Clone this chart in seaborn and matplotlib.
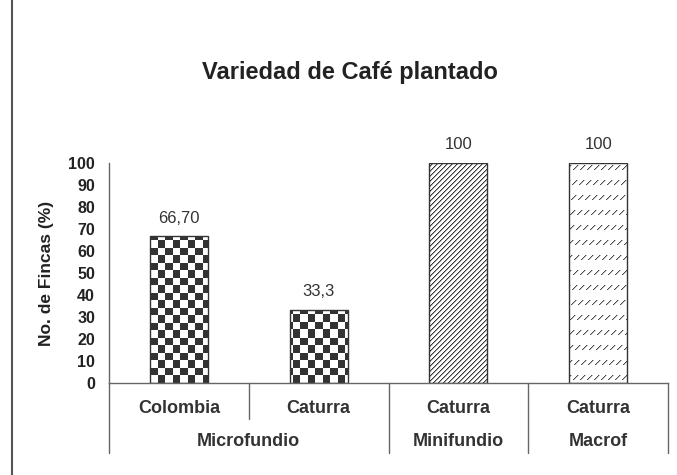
import matplotlib
matplotlib.use("Agg")
import matplotlib.pyplot as plt
import matplotlib.transforms as mtransforms
from matplotlib.patches import Rectangle
import numpy as np
import pandas as pd
import seaborn as sns

# Chart data
varieties = ["Colombia", "Caturra", "Caturra", "Caturra"]
groups = ["Microfundio", "Microfundio", "Minifundio", "Macrof"]
percent = [66.7, 33.3, 100, 100]
value_labels = ["66,70", "33,3", "100", "100"]
y_ticks = [0, 10, 20, 30, 40, 50, 60, 70, 80, 90, 100]

W, H = 677, 475
DARK = "#333333"

sns.set_style("white")
plt.rcParams["font.family"] = ["Liberation Sans", "DejaVu Sans"]

df = pd.DataFrame(
    {
        "bar": [f"{g}-{i}" for i, g in enumerate(groups)],
        "variety": varieties,
        "group": groups,
        "percent": percent,
    }
)

fig = plt.figure(figsize=(W / 100, H / 100), dpi=100)
ax = fig.add_axes([109 / W, 1 - 383 / H, 559 / W, 220 / H])

sns.barplot(
    data=df,
    x="bar",
    y="percent",
    hue="group",
    palette=["white", "white", "white"],
    dodge=False,
    width=0.415,
    edgecolor=DARK,
    linewidth=1.0,
    legend=False,
    ax=ax,
)


# Pixel textures used to fill the bars
def texture(kind):
    r, c = np.mgrid[0:H, 0:W]
    img = np.ones((H, W, 3))
    if kind == "checker":
        mask = ((np.floor(c / 7.5) + np.floor(r / 7.5)) % 2) == 1
        img[mask] = 0.2
    elif kind == "diag":
        d = (c + r) % 5
        img[d == 0] = 0.22
        img[d == 1] = 0.65
    else:
        band = (r % 15) < 5
        d = (c + r) % 7
        img[band & (d == 0)] = 0.3
        img[band & (d == 1)] = 0.75
    return img


pattern = {"Microfundio": "checker", "Minifundio": "diag", "Macrof": "dash"}
bars = sorted(ax.patches, key=lambda p: p.get_x())
for bar, g in zip(bars, groups):
    bar.set_facecolor("none")
    bar.set_zorder(2)
    im = ax.imshow(
        texture(pattern[g]),
        extent=(0, W, 0, H),
        transform=mtransforms.IdentityTransform(),
        interpolation="nearest",
        aspect="auto",
        zorder=1,
    )
    im.set_clip_path(bar)

# Value labels
for bar, lab in zip(bars, value_labels):
    ax.annotate(
        lab,
        (bar.get_x() + bar.get_width() / 2, bar.get_height()),
        xytext=(0, 13),
        textcoords="offset points",
        ha="center",
        va="center",
        fontsize=12,
        color=DARK,
        annotation_clip=False,
    )

ax.set_xlim(-0.5, len(percent) - 0.5)
ax.set_ylim(0, 100)
ax.set_yticks(y_ticks)
ax.set_yticklabels([str(t) for t in y_ticks], fontsize=11.5, fontweight="bold", color="#222222")
ax.tick_params(axis="y", length=0, pad=10)
ax.set_xticks(range(len(percent)))
ax.set_xticklabels([])
ax.tick_params(axis="x", length=3, width=0.8, color="#666666", direction="out")
ax.set_xlabel("")

for side in ["top", "right"]:
    ax.spines[side].set_visible(False)
for side in ["left", "bottom"]:
    ax.spines[side].set_color("#666666")
    ax.spines[side].set_linewidth(1.0)

ax.set_ylabel("No. de Fincas (%)", fontsize=12.5, fontweight="bold", color="#222222")
ax.yaxis.set_label_coords(-0.098, 0.5)

# Category table below the axis
trans = mtransforms.blended_transform_factory(ax.transData, ax.transAxes)
for i, v in enumerate(varieties):
    ax.text(i, -0.114, v, transform=trans, ha="center", va="center",
            fontsize=13, fontweight="bold", color=DARK)

group_names = list(dict.fromkeys(groups))
for g in group_names:
    idx = [i for i, x in enumerate(groups) if x == g]
    ax.text(np.mean(idx), -0.268, g, transform=trans, ha="center", va="center",
            fontsize=13, fontweight="bold", color=DARK)

for k in range(len(groups) + 1):
    xb = k - 0.5
    if 0 < k < len(groups) and groups[k] == groups[k - 1]:
        bottom = -0.164
    else:
        bottom = -0.318
    ax.plot([xb, xb], [0, bottom], transform=trans, color="#666666",
            lw=1.0, clip_on=False)

fig.text(350 / W, 1 - 72 / H, "Variedad de Café plantado", ha="center", va="center",
         fontsize=17, fontweight="bold", color="#222222")

# Outer frame (partly cut off at the right and bottom)
fig.add_artist(Rectangle((12 / W, -0.2), 1.2, 1.2 + (1 - 10 / H), transform=fig.transFigure,
                         fill=False, edgecolor="#555555", linewidth=1.5))

fig.savefig("out.png", dpi=100)
